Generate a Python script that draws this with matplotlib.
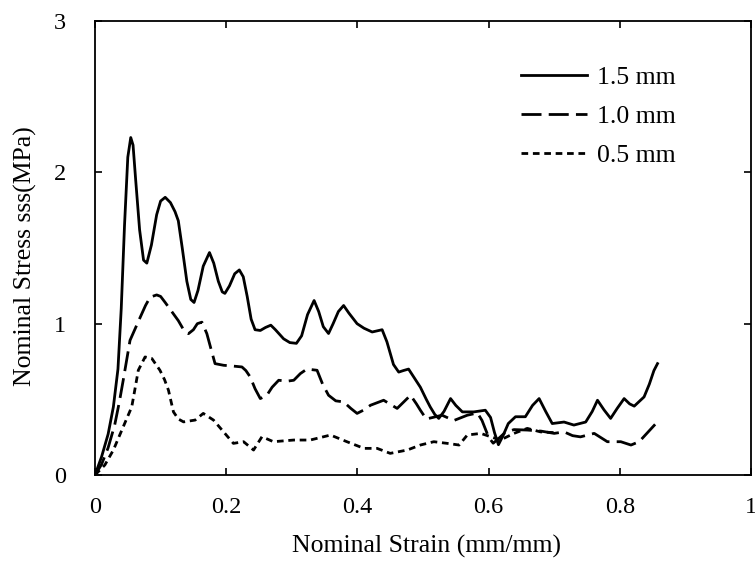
import matplotlib
matplotlib.use("Agg")
import matplotlib.pyplot as plt

plt.rcParams['font.family'] = ['Liberation Serif', 'DejaVu Serif']

labels = ["1.5 mm", "1.0 mm", "0.5 mm"]

x15 = [0, 0.010, 0.020, 0.028, 0.035, 0.040, 0.045, 0.050, 0.0545, 0.058, 0.062, 0.068, 0.074, 0.079,
       0.086, 0.094, 0.100, 0.107, 0.115, 0.122, 0.127, 0.133, 0.140, 0.146, 0.151, 0.157, 0.165, 0.1745,
       0.181, 0.188, 0.194, 0.198, 0.205, 0.213, 0.220, 0.226, 0.232, 0.238, 0.244, 0.252, 0.260, 0.268,
       0.275, 0.2875, 0.297, 0.307, 0.315, 0.324, 0.334, 0.341, 0.348, 0.356, 0.363, 0.371, 0.379, 0.387,
       0.3995, 0.410, 0.4225, 0.4377, 0.445, 0.455, 0.463, 0.470, 0.478, 0.487, 0.496, 0.505, 0.511,
       0.518, 0.524, 0.532, 0.542, 0.550, 0.560, 0.5775, 0.595, 0.603, 0.609, 0.615, 0.622, 0.630, 0.641,
       0.656, 0.667, 0.677, 0.687, 0.697, 0.715, 0.730, 0.748, 0.758, 0.766, 0.776, 0.786, 0.796, 0.8066,
       0.815, 0.822, 0.837, 0.845, 0.852, 0.8575]
y15 = [0, 0.12, 0.27, 0.45, 0.70, 1.10, 1.65, 2.10, 2.23, 2.18, 1.95, 1.62, 1.42, 1.40,
       1.52, 1.72, 1.81, 1.835, 1.80, 1.74, 1.68, 1.50, 1.28, 1.16, 1.14, 1.22, 1.38, 1.47,
       1.40, 1.28, 1.21, 1.20, 1.25, 1.33, 1.355, 1.31, 1.18, 1.03, 0.96, 0.955, 0.975, 0.99,
       0.96, 0.90, 0.875, 0.87, 0.92, 1.06, 1.153, 1.08, 0.98, 0.935, 1.00, 1.08, 1.12, 1.07,
       1.00, 0.97, 0.945, 0.96, 0.88, 0.73, 0.68, 0.69, 0.70, 0.64, 0.58, 0.50, 0.45,
       0.40, 0.374, 0.42, 0.505, 0.46, 0.417, 0.417, 0.428, 0.38, 0.28, 0.20, 0.26, 0.34, 0.385,
       0.385, 0.46, 0.505, 0.42, 0.34, 0.35, 0.33, 0.35, 0.42, 0.494, 0.43, 0.374, 0.44, 0.505,
       0.47, 0.455, 0.516, 0.60, 0.69, 0.736]

x10 = [0, 0.010, 0.020, 0.030, 0.037, 0.043, 0.0534, 0.0687, 0.077, 0.084, 0.094, 0.100, 0.107, 0.117,
       0.127, 0.135, 0.1425, 0.150, 0.156, 0.163, 0.1705, 0.177, 0.183, 0.196, 0.210, 0.224, 0.230,
       0.2366, 0.244, 0.252, 0.262, 0.270, 0.280, 0.293, 0.303, 0.313, 0.323, 0.3385, 0.347, 0.356,
       0.367, 0.379, 0.390, 0.3995, 0.410, 0.420, 0.440, 0.4606, 0.470, 0.481, 0.490, 0.496, 0.505,
       0.529, 0.547, 0.5675, 0.583, 0.590, 0.600, 0.607, 0.615, 0.625, 0.6387, 0.659, 0.680, 0.700,
       0.715, 0.728, 0.740, 0.761, 0.781, 0.8015, 0.817, 0.8295, 0.855]
y10 = [0, 0.07, 0.18, 0.33, 0.48, 0.626, 0.89, 1.04, 1.12, 1.175, 1.19, 1.18, 1.14, 1.08,
       1.02, 0.96, 0.934, 0.96, 1.00, 1.01, 0.934, 0.83, 0.736, 0.725, 0.72, 0.714, 0.69,
       0.648, 0.57, 0.505, 0.527, 0.58, 0.626, 0.62, 0.626, 0.67, 0.70, 0.692, 0.60, 0.527,
       0.49, 0.483, 0.44, 0.407, 0.43, 0.461, 0.494, 0.44, 0.48, 0.527, 0.47, 0.428, 0.37,
       0.395, 0.36, 0.395, 0.41, 0.36, 0.25, 0.21, 0.24, 0.28, 0.30, 0.297, 0.29, 0.275,
       0.285, 0.26, 0.252, 0.275, 0.22, 0.22, 0.198, 0.22, 0.34]

x05 = [0, 0.015, 0.028, 0.043, 0.056, 0.061, 0.066, 0.0763, 0.0866, 0.099, 0.106, 0.112, 0.1196, 0.127,
       0.135, 0.1527, 0.165, 0.1806, 0.196, 0.211, 0.2265, 0.2417, 0.2545, 0.272, 0.303, 0.328, 0.359,
       0.384, 0.410, 0.430, 0.450, 0.476, 0.496, 0.5165, 0.537, 0.555, 0.5675, 0.588, 0.603, 0.618,
       0.6387, 0.659, 0.679, 0.700]
y05 = [0, 0.066, 0.165, 0.318, 0.45, 0.57, 0.692, 0.78, 0.77, 0.692, 0.63, 0.56, 0.417, 0.37,
       0.351, 0.363, 0.407, 0.363, 0.285, 0.209, 0.22, 0.165, 0.253, 0.22, 0.231, 0.231, 0.264,
       0.22, 0.176, 0.176, 0.143, 0.165, 0.198, 0.22, 0.209, 0.198, 0.264, 0.275, 0.253, 0.231,
       0.275, 0.308, 0.285, 0.28]

xticks = [0, 0.2, 0.4, 0.6, 0.8, 1.0]
xticklabels = ["0", "0.2", "0.4", "0.6", "0.8", "1"]
yticks = [0, 1, 2, 3]
yticklabels = ["0", "1", "2", "3"]

fig = plt.figure(figsize=(7.55, 5.63), dpi=100)
ax = fig.add_axes([95/755, 1 - 475/563, (751-95)/755, (475-21)/563])

lw = 2.0
ax.plot(x15, y15, color='black', lw=lw, solid_joinstyle='round', label=labels[0])
ax.plot(x10, y10, color='black', lw=lw, dashes=(7.2, 2.6), label=labels[1])
ax.plot(x05, y05, color='black', lw=lw, dashes=(2.4, 1.7), label=labels[2])

ax.set_xlim(0, 1)
ax.set_ylim(0, 3)
ax.set_xticks(xticks)
ax.set_xticklabels(xticklabels)
ax.set_yticks(yticks)
ax.set_yticklabels(yticklabels)
ax.tick_params(direction='in', length=5, width=1.2, labelsize=17.5, top=True, right=True,
               pad=16, colors='black')
ax.tick_params(axis='y', pad=21)
for s in ax.spines.values():
    s.set_linewidth(1.3)

ax.set_xlabel("Nominal Strain (mm/mm)", fontsize=18.5, labelpad=12)
ax.set_ylabel("Nominal Stress sss(MPa)", fontsize=18.5, labelpad=12)
ax.xaxis.label.set_x((427 - 95) / 656)
ax.yaxis.label.set_y((475 - 256) / 454)

leg = ax.legend(loc='upper left', bbox_to_anchor=((521-95)/656, (475-66)/454), frameon=False,
                fontsize=18.5, handlelength=2.55, handletextpad=0.4, labelspacing=0.62,
                borderpad=0, borderaxespad=0)

fig.savefig("out.png", dpi=100)
